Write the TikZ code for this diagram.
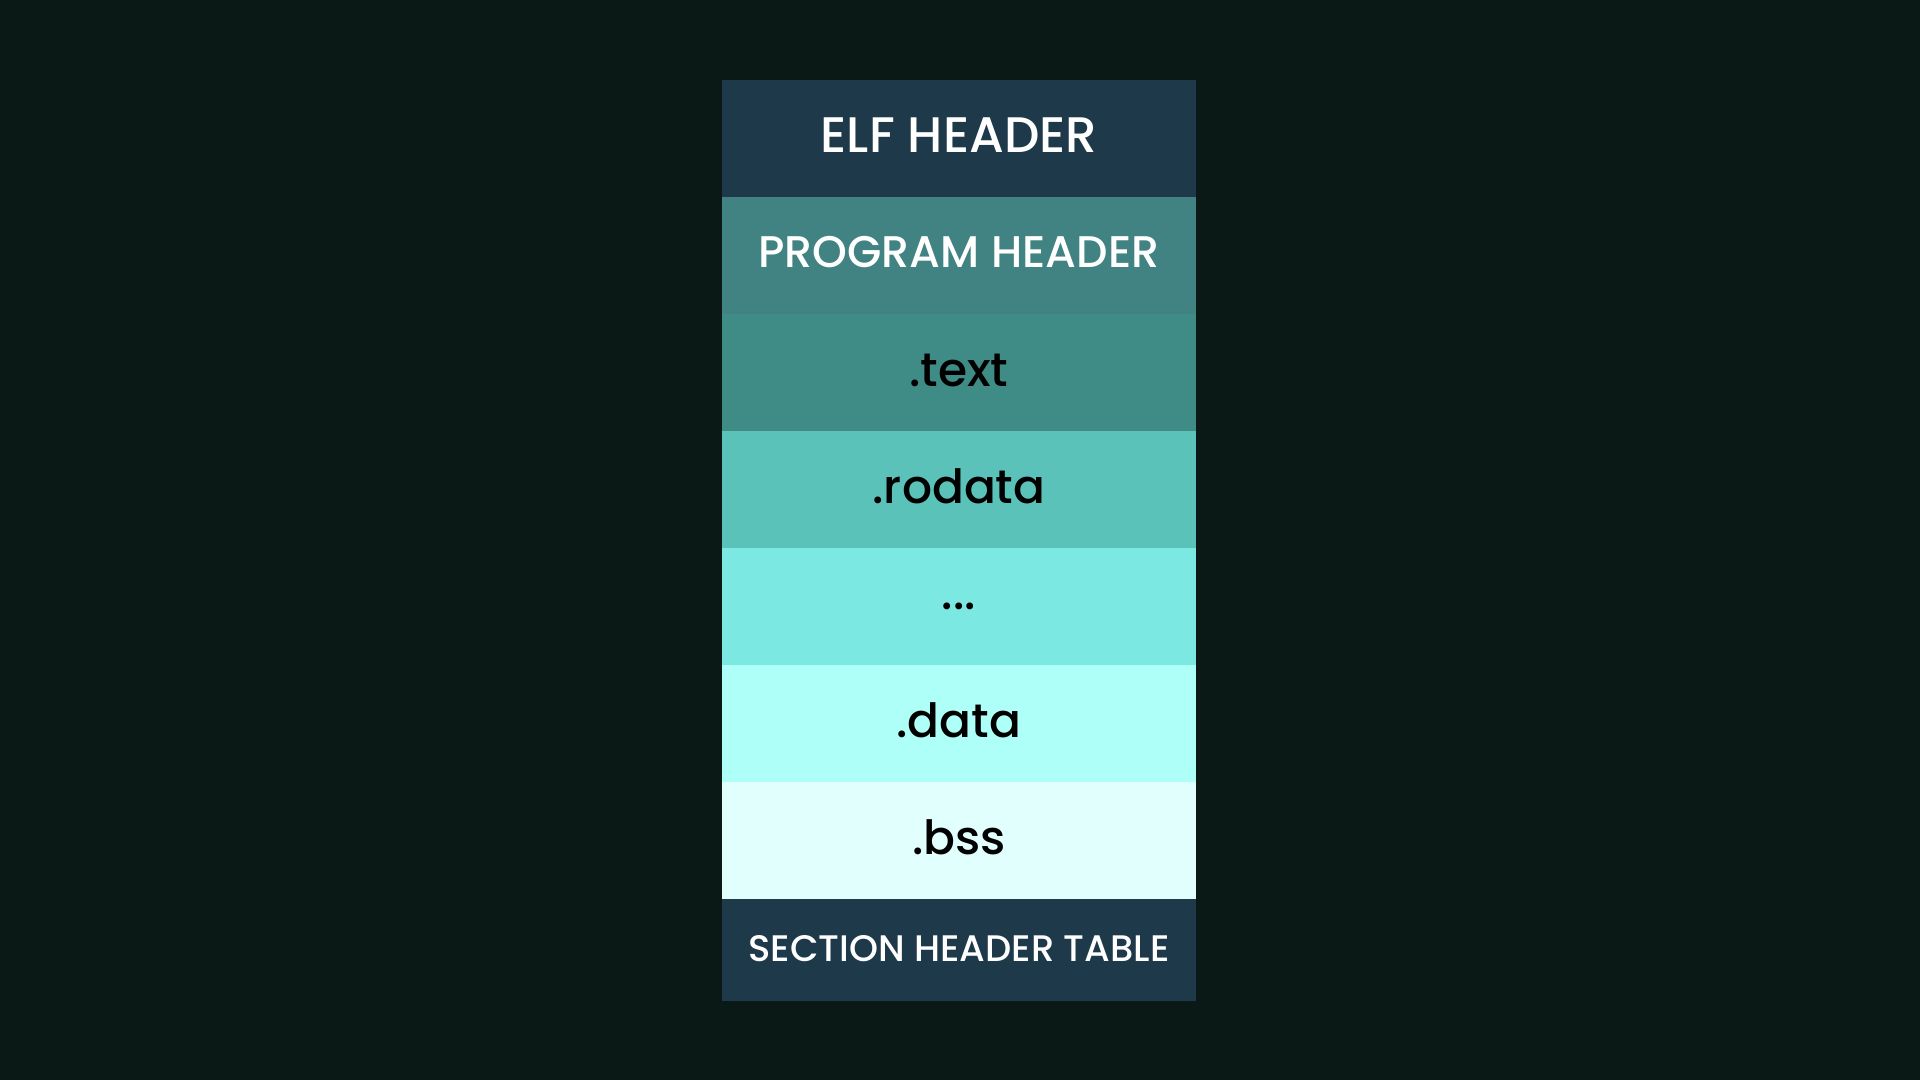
\documentclass[tikz,border=0pt]{standalone}
\usepackage{fontspec}
\setmainfont{Poppins}[UprightFont=* Medium]
\usetikzlibrary{positioning}
\definecolor{bgcol}{HTML}{0A1915}
\definecolor{darkcol}{HTML}{1E3A4A}
\definecolor{progcol}{HTML}{418282}
\definecolor{textcol}{HTML}{3F8C86}
\definecolor{rocol}{HTML}{5BC2BA}
\definecolor{dotscol}{HTML}{7BE9E1}
\definecolor{datacol}{HTML}{AEFFF7}
\definecolor{bsscol}{HTML}{E0FFFD}
\tikzset{
  seg/.style={minimum width=4.74cm, minimum height=1.17cm, inner sep=0pt, outer sep=0pt,
    text height=0.27cm, text depth=0pt, font=\fontsize{13.4pt}{15pt}\selectfont},
  lightseg/.style={seg, text=black},
  darkseg/.style={seg, text=white}
}
\begin{document}
\begin{tikzpicture}[x=0.01cm, y=-0.01cm]
\fill[bgcol] (0,0) rectangle (1920,1080);

\node [darkseg, fill=darkcol, anchor=north, font=\fontsize{14.2pt}{16pt}\selectfont] (elf) at (959,80) {ELF HEADER};
\node [darkseg, fill=progcol, below=0pt of elf, text height=0.23cm, font=\fontsize{12.6pt}{14pt}\selectfont] (prog) {PROGRAM HEADER\hspace{0.14cm}};
\node [lightseg, fill=textcol, below=0pt of prog] (text) {.text};
\node [lightseg, fill=rocol, below=0pt of text] (rodata) {.rodata};
\node [lightseg, fill=dotscol, below=0pt of rodata, text height=0.06cm] (dots) {...};
\node [lightseg, fill=datacol, below=0pt of dots] (data) {.data};
\node [lightseg, fill=bsscol, below=0pt of data] (bss) {.bss};
\node [darkseg, fill=darkcol, below=0pt of bss, minimum height=1.01cm, text height=0.23cm, font=\fontsize{10.5pt}{12pt}\selectfont] (sht) {SECTION HEADER TABLE};

\end{tikzpicture}
\end{document}
